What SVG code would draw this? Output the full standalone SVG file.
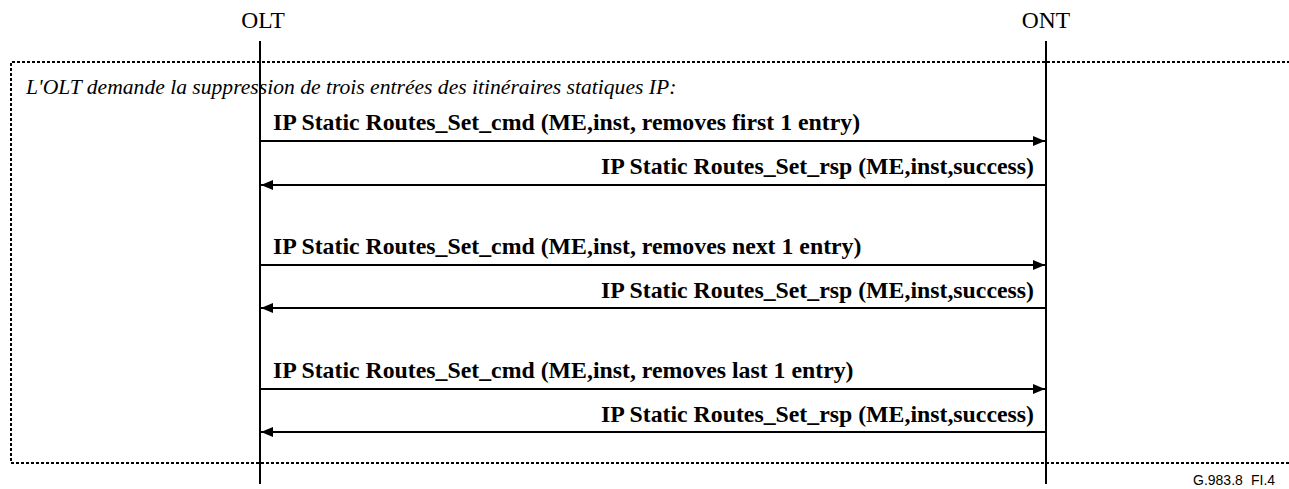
<svg xmlns="http://www.w3.org/2000/svg" width="1289" height="489" viewBox="0 0 1289 489">
  <style>
    .hdr { font-family: "Liberation Serif", "Times New Roman", serif; font-size: 23.5px; fill: #000; }
    .note { font-family: "Liberation Serif", "Times New Roman", serif; font-size: 21.6px; font-style: italic; fill: #000; }
    .msg { font-family: "Liberation Serif", "Times New Roman", serif; font-size: 23.8px; font-weight: bold; fill: #000; }
    .tag { font-family: "Liberation Sans", Arial, sans-serif; font-size: 14px; fill: #000; }
    .life { stroke: #000; stroke-width: 2; fill: none; }
    .frame { stroke: #000; stroke-width: 2; stroke-dasharray: 3 2; fill: none; }
    .arrow { stroke: #000; stroke-width: 2; fill: none; }
  </style>
  <defs>
    <marker id="head" viewBox="0 0 12 10" refX="12" refY="5" markerWidth="12" markerHeight="10" markerUnits="userSpaceOnUse" orient="auto">
      <path d="M0,0 L12,5 L0,10 Z" fill="#000"/>
    </marker>
  </defs>
  <rect width="1289" height="489" fill="#fff"/>

  <!-- dotted frame around the exchange -->
  <path class="frame" d="M1295,62 H11 V463 H1295"/>

  <g id="olt">
    <text class="hdr" x="263" y="28" text-anchor="middle">OLT</text>
    <line class="life" x1="260" y1="41" x2="260" y2="484"/>
  </g>
  <g id="ont">
    <text class="hdr" x="1046" y="28" text-anchor="middle">ONT</text>
    <line class="life" x1="1046" y1="41" x2="1046" y2="484"/>
  </g>

  <text class="note" x="26" y="94">L'OLT demande la suppression de trois entrées des itinéraires statiques IP:</text>

  <g id="connectors">
    <line class="arrow" x1="261" y1="141" x2="1045" y2="141" marker-end="url(#head)"/>
    <text class="msg" x="273" y="130">IP Static Routes_Set_cmd (ME,inst, removes first 1 entry)</text>
    <line class="arrow" x1="1045" y1="185" x2="261" y2="185" marker-end="url(#head)"/>
    <text class="msg" x="1034" y="174" text-anchor="end">IP Static Routes_Set_rsp (ME,inst,success)</text>

    <line class="arrow" x1="261" y1="265" x2="1045" y2="265" marker-end="url(#head)"/>
    <text class="msg" x="273" y="254">IP Static Routes_Set_cmd (ME,inst, removes next 1 entry)</text>
    <line class="arrow" x1="1045" y1="308" x2="261" y2="308" marker-end="url(#head)"/>
    <text class="msg" x="1034" y="298" text-anchor="end">IP Static Routes_Set_rsp (ME,inst,success)</text>

    <line class="arrow" x1="261" y1="389" x2="1045" y2="389" marker-end="url(#head)"/>
    <text class="msg" x="273" y="378">IP Static Routes_Set_cmd (ME,inst, removes last 1 entry)</text>
    <line class="arrow" x1="1045" y1="432" x2="261" y2="432" marker-end="url(#head)"/>
    <text class="msg" x="1034" y="422" text-anchor="end">IP Static Routes_Set_rsp (ME,inst,success)</text>
  </g>

  <text class="tag" x="1193" y="485">G.983.8<tspan x="1251">FI.4</tspan></text>
</svg>
